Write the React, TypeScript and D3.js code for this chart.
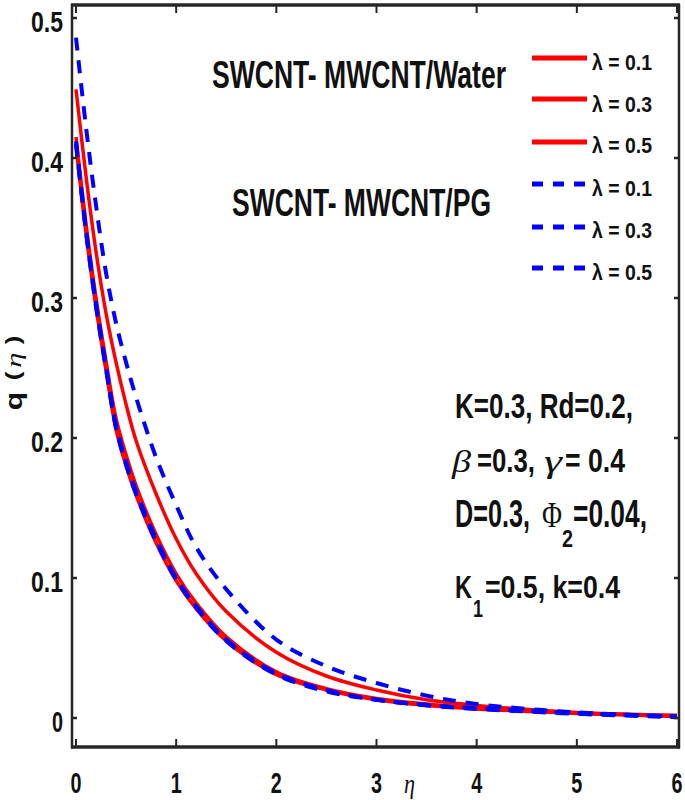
import React from "react";
import * as d3 from "d3";

// ---- data ----
const eta = [0, 0.1, 0.2, 0.3, 0.4, 0.5, 0.6, 0.8, 1.0, 1.2, 1.5, 2.0, 2.5, 3.0, 3.5, 4.0, 5.0, 6.0];

const waterL01 = [0.449, 0.387, 0.333, 0.289, 0.254, 0.224, 0.198, 0.160, 0.128, 0.103, 0.076, 0.047, 0.030, 0.020, 0.013, 0.009, 0.004, 0.002];
const waterL03 = [0.415, 0.353, 0.300, 0.255, 0.214, 0.188, 0.166, 0.131, 0.103, 0.082, 0.058, 0.033, 0.021, 0.014, 0.010, 0.007, 0.0035, 0.0015];
const waterL05 = [0.409, 0.346, 0.293, 0.248, 0.206, 0.180, 0.159, 0.125, 0.098, 0.078, 0.055, 0.031, 0.020, 0.013, 0.009, 0.0065, 0.0033, 0.001];
const pgL01 = [0.486, 0.422, 0.366, 0.318, 0.282, 0.254, 0.229, 0.186, 0.152, 0.122, 0.092, 0.056, 0.037, 0.025, 0.016, 0.010, 0.004, 0.001];
const pgL03 = [0.412, 0.349, 0.296, 0.251, 0.209, 0.183, 0.162, 0.128, 0.100, 0.080, 0.056, 0.032, 0.020, 0.013, 0.0095, 0.007, 0.0035, 0.001];
const pgL05 = [0.410, 0.347, 0.294, 0.249, 0.207, 0.181, 0.160, 0.126, 0.099, 0.079, 0.055, 0.031, 0.019, 0.013, 0.009, 0.0065, 0.003, 0.0005];

const legendLabels = ["λ = 0.1", "λ = 0.3", "λ = 0.5", "λ = 0.1", "λ = 0.3", "λ = 0.5"];
const xTicks = [0, 1, 2, 3, 4, 5, 6];
const yTicks = [0, 0.1, 0.2, 0.3, 0.4, 0.5];

const RED = "#ff0000";
const BLUE = "#0000ff";
const AX = "#262626";
const SANS = "'Liberation Sans', Arial, Helvetica, sans-serif";
const SERIF = "'Liberation Serif', 'Times New Roman', serif";

const series = [
  { values: waterL01, color: RED, dash: null },
  { values: waterL03, color: RED, dash: null },
  { values: waterL05, color: RED, dash: null },
  { values: pgL01, color: BLUE, dash: "13,10" },
  { values: pgL03, color: BLUE, dash: "13,10" },
  { values: pgL05, color: BLUE, dash: "13,10" },
];

function T(props: any) {
  const { x, y, size, len, anchor, family, italic, weight, children, fill } = props;
  return (
    <text
      x={x}
      y={y}
      fontSize={size}
      fontFamily={family || SANS}
      fontStyle={italic ? "italic" : "normal"}
      fontWeight={weight || "bold"}
      textAnchor={anchor || "start"}
      textLength={len}
      lengthAdjust="spacingAndGlyphs"
      fill={fill || "#111"}
    >
      {children}
    </text>
  );
}

// a glyph rotated -90° (reads bottom-to-top), stretched along its reading direction
function RotGlyph(props: any) {
  const { cx, cy, size, sx, family, italic, weight, children } = props;
  return (
    <g transform={`translate(${cx},${cy}) rotate(-90) scale(${sx},1)`}>
      <text
        x={0}
        y={0}
        dy="0.35em"
        textAnchor="middle"
        fontSize={size}
        fontFamily={family || SANS}
        fontStyle={italic ? "italic" : "normal"}
        fontWeight={weight || "bold"}
        fill="#111"
      >
        {children}
      </text>
    </g>
  );
}

export default function App() {
  const W = 685;
  const H = 800;
  const left = 72, right = 679, top = 5, bottom = 747;

  const x = d3.scaleLinear().domain([0, 6]).range([76, 677]);
  const y = d3.scaleLinear().domain([0, 0.5]).range([718, 18]);

  const line = (vals: number[]) =>
    d3
      .line<number>()
      .x((_, i) => x(eta[i]))
      .y((d) => y(d))
      .curve(d3.curveCatmullRom.alpha(0.5))(vals) as string;

  const legRowsLine = [58, 99, 142, 184, 227, 268];
  const legRowsText = [70, 112, 153, 196, 238, 280];

  return (
    <svg
      width={W}
      height={H}
      style={{ position: "absolute", left: 0, top: 0, background: "#fff" }}
    >
      <rect x={0} y={0} width={W} height={H} fill="#fff" />
      <defs>
        <clipPath id="plotclip">
          <rect x={left} y={top} width={right - left} height={bottom - top} />
        </clipPath>
      </defs>

      {/* curves */}
      <g clipPath="url(#plotclip)" fill="none">
        {series
          .filter((s) => !s.dash)
          .map((s, i) => (
            <path key={"r" + i} d={line(s.values)} stroke={s.color} strokeWidth={3.5} />
          ))}
        {series
          .filter((s) => s.dash)
          .map((s, i) => (
            <path
              key={"b" + i}
              d={line(s.values)}
              stroke={s.color}
              strokeWidth={4}
              strokeDasharray={s.dash as string}
            />
          ))}
      </g>

      {/* axes box */}
      <line x1={left} x2={left} y1={top - 1} y2={bottom + 1.5} stroke={AX} strokeWidth={2.5} />
      <line x1={right} x2={right} y1={top - 1} y2={bottom + 1.5} stroke={AX} strokeWidth={2.5} />
      <line x1={left - 1} x2={right + 1} y1={top} y2={top} stroke={AX} strokeWidth={3.5} />
      <line x1={left - 1} x2={right + 1} y1={bottom} y2={bottom} stroke={AX} strokeWidth={3.5} />

      {/* ticks */}
      {xTicks.map((t) => (
        <g key={"xt" + t}>
          <line x1={x(t)} x2={x(t)} y1={bottom} y2={bottom - 8} stroke={AX} strokeWidth={2} />
          <line x1={x(t)} x2={x(t)} y1={top} y2={top + 8} stroke={AX} strokeWidth={2} />
          <T x={x(t)} y={793} size={30} len={11} anchor="middle">
            {String(t)}
          </T>
        </g>
      ))}
      {yTicks.map((t) => (
        <g key={"yt" + t}>
          <line x1={left} x2={left + 5} y1={y(t)} y2={y(t)} stroke={AX} strokeWidth={2.5} />
          <line x1={right} x2={right - 5} y1={y(t)} y2={y(t)} stroke={AX} strokeWidth={2.5} />
          <T x={63} y={y(t) + 14} size={29} len={t === 0 ? 11 : 32} anchor="end">
            {t === 0 ? "0" : String(t)}
          </T>
        </g>
      ))}

      {/* axis labels */}
      <T x={404} y={793} size={28} len={11} family={SERIF} italic weight="normal">
        η
      </T>
      <RotGlyph cx={14} cy={401} size={23} sx={1.3}>q</RotGlyph>
      <RotGlyph cx={13} cy={376} size={20} sx={1.3}>(</RotGlyph>
      <RotGlyph cx={13} cy={360} size={22} sx={1.4} family={SERIF} italic weight="normal">η</RotGlyph>
      <RotGlyph cx={13} cy={340} size={20} sx={1.3}>)</RotGlyph>

      {/* fluid labels */}
      <T x={212} y={88} size={39} len={294}>SWCNT- MWCNT/Water</T>
      <T x={232} y={216} size={39} len={259}>SWCNT- MWCNT/PG</T>

      {/* legend */}
      {series.map((s, i) => (
        <g key={"lg" + i}>
          <line
            x1={532}
            x2={587}
            y1={legRowsLine[i]}
            y2={legRowsLine[i]}
            stroke={s.color}
            strokeWidth={5}
            strokeDasharray={s.dash ? "11,10" : undefined}
          />
          <T x={592} y={legRowsText[i]} size={22} len={60}>
            {legendLabels[i]}
          </T>
        </g>
      ))}

      {/* parameter annotation */}
      <T x={455} y={418} size={35} len={178}>K=0.3, Rd=0.2,</T>

      <T x={452} y={472} size={32} len={19} family={SERIF} italic weight="normal">β</T>
      <T x={477} y={472} size={33} len={58}>=0.3,</T>
      <T x={544} y={472} size={32} len={18} family={SERIF} italic weight="normal">γ</T>
      <T x={565} y={472} size={33} len={60}>= 0.4</T>

      <T x={455} y={527} size={38} len={75}>D=0.3,</T>
      <T x={542} y={527} size={36} len={20} family={SERIF} weight="normal">Φ</T>
      <T x={562} y={547} size={24} len={11}>2</T>
      <T x={573} y={527} size={38} len={74}>=0.04,</T>

      <T x={455} y={598} size={32} len={17}>K</T>
      <T x={473} y={617} size={24} len={10}>1</T>
      <T x={485} y={598} size={32} len={135}>=0.5, k=0.4</T>
    </svg>
  );
}
